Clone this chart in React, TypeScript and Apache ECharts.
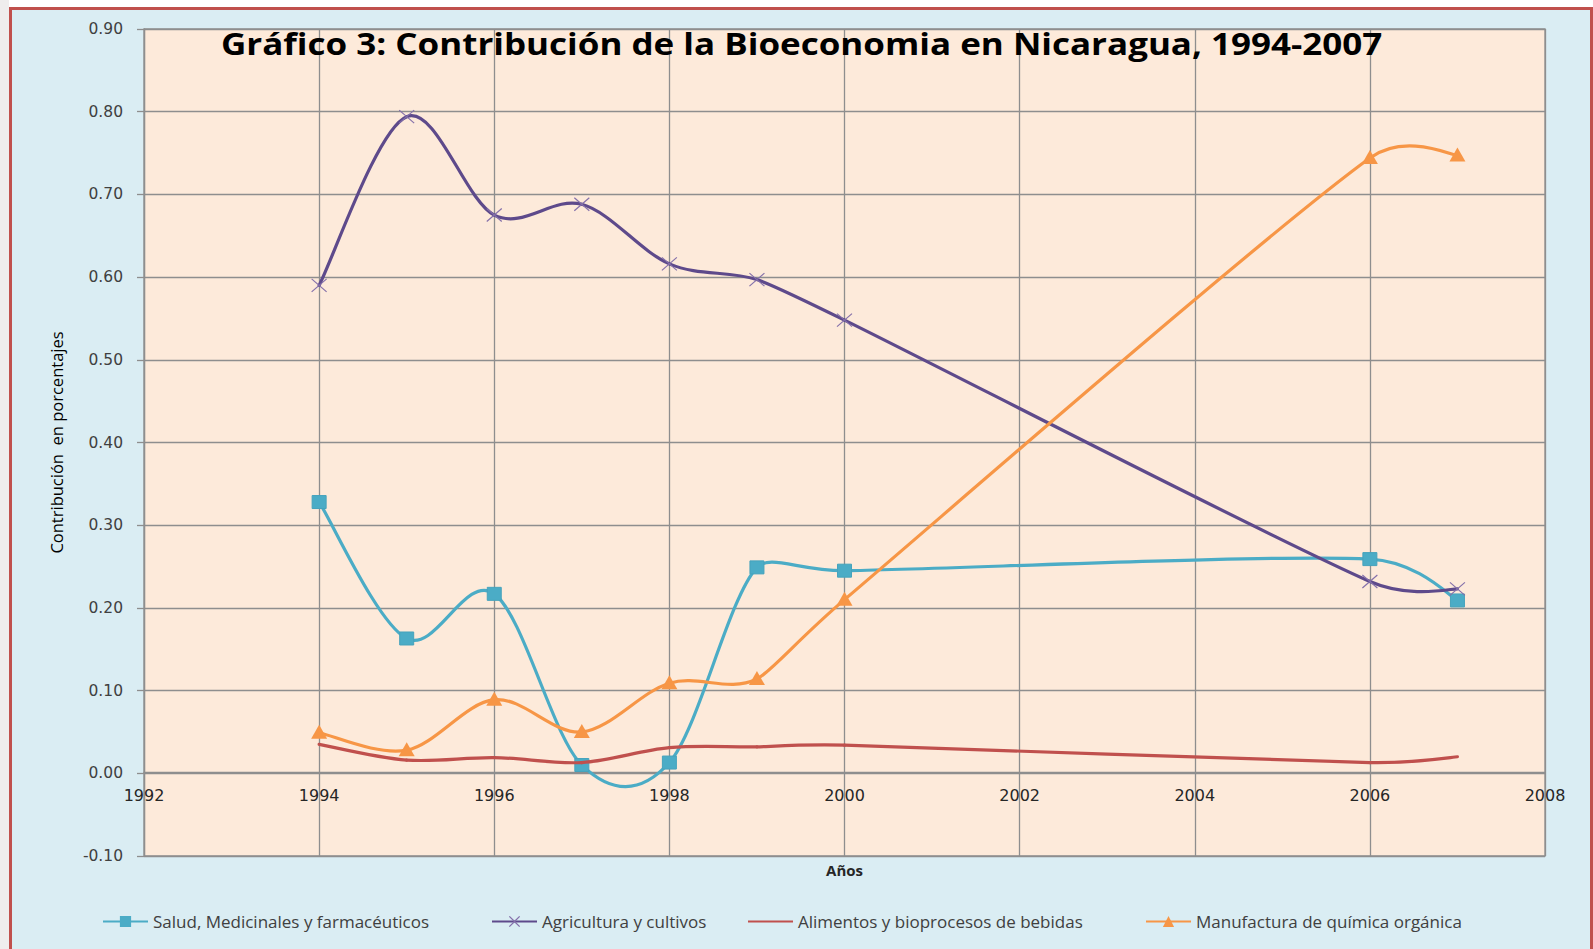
import React, { useEffect, useRef } from "react";
import * as echarts from "echarts";

const years = [1994, 1995, 1996, 1997, 1998, 1999, 2000, 2006, 2007];
const salud = [0.328, 0.163, 0.217, 0.01, 0.013, 0.249, 0.245, 0.259, 0.209];
const agricultura = [0.59, 0.794, 0.675, 0.688, 0.616, 0.597, 0.548, 0.232, 0.223];
const alimentos = [0.035, 0.016, 0.019, 0.013, 0.031, 0.032, 0.034, 0.013, 0.02];
const manufactura = [0.049, 0.028, 0.089, 0.05, 0.109, 0.114, 0.21, 0.744, 0.747];

const seriesNames = [
  "Salud, Medicinales y farmacéuticos",
  "Agricultura y cultivos",
  "Alimentos y bioprocesos de bebidas",
  "Manufactura de química orgánica",
];
const seriesColors = ["#4BACC6", "#5E4A8B", "#C0504D", "#F79646"];
const seriesMarkers = ["square", "cross", "none", "triangle"];
const seriesValues = [salud, agricultura, alimentos, manufactura];

const titleText = "Gráfico 3: Contribución de la Bioeconomia en Nicaragua, 1994-2007";
const yAxisName = "Contribución  en porcentajes";
const xAxisName = "Años";

const X_SYMBOL =
  "path://M0,0.8L0.8,0L5,4.2L9.2,0L10,0.8L5.8,5L10,9.2L9.2,10L5,5.8L0.8,10L0,9.2L4.2,5Z";

const pair = (vals: number[]) => years.map((y, i) => [y, vals[i]]);

// Excel-like smoothing: Bezier with 1/6 tension, reduced when tangents exceed half the segment
function controlPoints(p0: number[], p1: number[], p2: number[], p3: number[]) {
  const d12 = Math.hypot(p2[0] - p1[0], p2[1] - p1[1]);
  const d02 = Math.hypot(p2[0] - p0[0], p2[1] - p0[1]);
  const d13 = Math.hypot(p3[0] - p1[0], p3[1] - p1[1]);
  let f = 1 / 6;
  let g = 1 / 6;
  let clamped = false;
  if (d02 / 6 >= d12 / 2 && d02 > 0) {
    f = d12 / (2 * d02);
    clamped = true;
  }
  if (d13 / 6 >= d12 / 2 && d13 > 0) {
    g = d12 / (2 * d13);
    clamped = true;
  }
  if (clamped) {
    const m = Math.min(f, g);
    f = m;
    g = m;
  }
  return [
    p1[0] + (p2[0] - p0[0]) * f,
    p1[1] + (p2[1] - p0[1]) * f,
    p2[0] - (p3[0] - p1[0]) * g,
    p2[1] - (p3[1] - p1[1]) * g,
  ];
}

function curveSeries(idx: number) {
  const values = seriesValues[idx];
  const color = seriesColors[idx];
  const marker = seriesMarkers[idx];
  return {
    type: "custom",
    name: seriesNames[idx],
    data: pair(values),
    encode: { x: 0, y: 1 },
    clip: false,
    z: 3 + idx,
    renderItem: (params: any, api: any) => {
      const i = params.dataIndex;
      const n = years.length;
      const pts = years.map((y, k) => api.coord([y, values[k]]));
      const children: any[] = [];
      if (i < n - 1) {
        const p0 = pts[Math.max(i - 1, 0)];
        const p1 = pts[i];
        const p2 = pts[i + 1];
        const p3 = pts[Math.min(i + 2, n - 1)];
        const [c1x, c1y, c2x, c2y] = controlPoints(p0, p1, p2, p3);
        children.push({
          type: "bezierCurve",
          shape: { x1: p1[0], y1: p1[1], x2: p2[0], y2: p2[1], cpx1: c1x, cpy1: c1y, cpx2: c2x, cpy2: c2y },
          style: { stroke: color, lineWidth: 3.2, fill: null, lineCap: "round" },
        });
      }
      const [x, y] = pts[i];
      if (marker === "square") {
        children.push({
          type: "rect",
          shape: { x: x - 7, y: y - 6.5, width: 14, height: 13 },
          style: { fill: "#4BACC6", stroke: "#46A3BC", lineWidth: 1 },
        });
      } else if (marker === "triangle") {
        children.push({
          type: "polygon",
          shape: { points: [[x, y - 8], [x + 8, y + 6], [x - 8, y + 6]] },
          style: { fill: "#F79646" },
        });
      } else if (marker === "cross") {
        const s = 6.5;
        children.push({
          type: "line",
          shape: { x1: x - s - 1, y1: y - s, x2: x + s + 1, y2: y + s },
          style: { stroke: "#8470AA", lineWidth: 1.2 },
        });
        children.push({
          type: "line",
          shape: { x1: x - s - 1, y1: y + s, x2: x + s + 1, y2: y - s },
          style: { stroke: "#8470AA", lineWidth: 1.2 },
        });
      }
      return { type: "group", children };
    },
  };
}

function legendSeries(idx: number) {
  const marker = seriesMarkers[idx];
  const symbol =
    marker === "square" ? "rect" : marker === "triangle" ? "triangle" : marker === "cross" ? X_SYMBOL : "circle";
  return {
    type: "line",
    name: seriesNames[idx],
    data: [],
    symbol,
    symbolSize: 12,
    itemStyle: {
      color: marker === "cross" ? "#8470AA" : seriesColors[idx],
      opacity: marker === "none" ? 0 : 1,
    },
    lineStyle: { color: seriesColors[idx], width: 3.2 },
  };
}

const legendLefts = [102, 491, 747, 1145];

export default function App() {
  const ref = useRef<HTMLDivElement>(null);
  useEffect(() => {
    if (!ref.current) return;
    const chart = echarts.init(ref.current, null, { renderer: "svg" });
    const gridColor = "#8e8e8e";
    chart.setOption({
      animation: false,
      backgroundColor: "#DAEDF3",
      textStyle: { fontFamily: "Open Sans" },
      graphic: [
        { type: "rect", shape: { x: 0, y: 0, width: 1593, height: 8 }, style: { fill: "#ffffff" }, silent: true },
        { type: "rect", shape: { x: 0, y: 0, width: 9, height: 949 }, style: { fill: "#efeded" }, silent: true },
        {
          type: "rect",
          shape: { x: 10.5, y: 8.5, width: 1581, height: 960 },
          style: { fill: "none", stroke: "#C0504D", lineWidth: 3 },
          silent: true,
        },
        {
          type: "text",
          x: 221,
          y: 28,
          scaleX: 1.166,
          z: 1,
          style: {
            text: titleText,
            font: "bold 30px 'Open Sans'",
            fill: "#000000",
            align: "left",
            verticalAlign: "top",
          },
        },
      ],
      grid: {
        left: 144,
        top: 29,
        width: 1401,
        height: 827,
        show: true,
        outerBoundsMode: "none",
        containLabel: false,
        backgroundColor: "#FDEADA",
        borderColor: gridColor,
        borderWidth: 1.3,
      },
      legend: seriesNames.map((nm, i) => ({
        left: legendLefts[i],
        top: 913,
        padding: 0,
        itemWidth: 45,
        itemHeight: 14,
        itemGap: 0,
        textStyle: { fontFamily: "Open Sans", fontSize: 17, color: "#404040" },
        data: [nm],
      })),
      xAxis: {
        type: "value",
        min: 1992,
        max: 2008,
        interval: 2,
        offset: -84,
        name: xAxisName,
        nameLocation: "middle",
        nameGap: 90,
        nameTextStyle: { fontFamily: "Open Sans", fontSize: 15, fontWeight: "bold", color: "#262626" },
        axisLine: { show: true, onZero: false, lineStyle: { color: gridColor, width: 1.3 } },
        axisTick: { show: false },
        axisLabel: {
          margin: 15,
          fontFamily: "DejaVu Sans",
          fontSize: 16,
          color: "#262626",
          formatter: (v: number) => String(v),
        },
        splitLine: { show: true, lineStyle: { color: gridColor, width: 1.3 } },
      },
      yAxis: {
        type: "value",
        min: -0.1,
        max: 0.9,
        interval: 0.1,
        name: yAxisName,
        nameLocation: "middle",
        nameGap: 79,
        nameTextStyle: { fontFamily: "Open Sans", fontSize: 16.5, color: "#000000" },
        axisLine: { show: true, onZero: false, lineStyle: { color: gridColor, width: 1.3 } },
        axisTick: { show: true, length: 7, lineStyle: { color: gridColor, width: 1.3 } },
        axisLabel: {
          margin: 21,
          fontFamily: "DejaVu Sans",
          fontSize: 15.5,
          color: "#404040",
          formatter: (v: number) => v.toFixed(2),
        },
        splitLine: { show: true, lineStyle: { color: gridColor, width: 1.3 } },
      },
      series: [
        legendSeries(0),
        legendSeries(1),
        legendSeries(2),
        legendSeries(3),
        curveSeries(0),
        curveSeries(1),
        curveSeries(2),
        curveSeries(3),
      ],
    });
    return () => chart.dispose();
  }, []);
  return (
    <div
      ref={ref}
      style={{ position: "absolute", left: 0, top: 0, width: 1593, height: 949 }}
    />
  );
}
